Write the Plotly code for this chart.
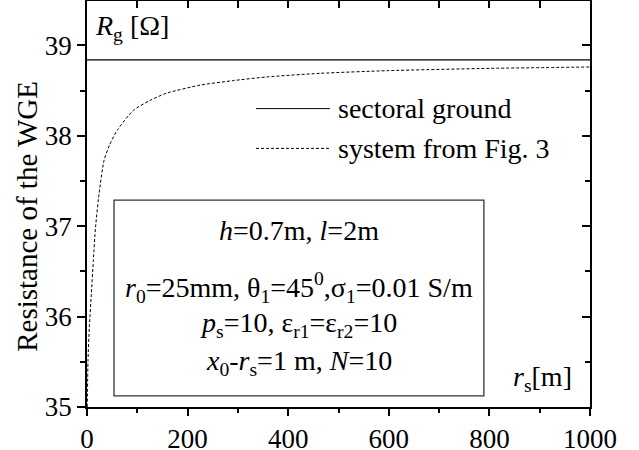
import plotly.graph_objects as go

# --- data ---
x_sector = [0, 1000]
r_sector = [38.84, 38.84]

x_system = [0.5, 2, 4.6, 8.6, 12.6, 17, 24, 34, 45, 60, 92, 125, 158, 225, 291, 357, 463, 600, 800, 1000]
r_system = [35.0, 35.52, 35.88, 36.25, 36.62, 36.99, 37.36, 37.73, 37.9, 38.06, 38.28, 38.39, 38.47,
            38.56, 38.61, 38.65, 38.69, 38.72, 38.745, 38.76]

legend_labels = ["sectoral ground", "system from Fig. 3"]
x_ticks = [0, 200, 400, 600, 800, 1000]
y_ticks = [35, 36, 37, 38, 39]

FONT = "Liberation Serif"
XR = [0, 1000]
YR = [35, 39.49]

fig = go.Figure()
fig.add_trace(go.Scatter(x=x_sector, y=r_sector, mode="lines", name=legend_labels[0],
                         line=dict(color="black", width=1.3), showlegend=False))
fig.add_trace(go.Scatter(x=x_system, y=r_system, mode="lines", name=legend_labels[1],
                         line=dict(color="black", width=1, dash="3px,2px", shape="spline", smoothing=0.6),
                         showlegend=False))

axis_common = dict(showgrid=False, zeroline=False, showline=True, linecolor="black", linewidth=1.5,
                   tickcolor="black", tickwidth=1.5, automargin=False)

fig.update_layout(
    width=639, height=450,
    margin=dict(l=87, r=49, t=1, b=43),
    paper_bgcolor="white", plot_bgcolor="white",
    font=dict(family=FONT, color="black", size=28),
    xaxis=dict(range=XR, tickvals=x_ticks, ticks="outside", ticklen=7,
               minor=dict(dtick=100, ticks="outside", ticklen=4, tickcolor="black", tickwidth=1.5),
               tickfont=dict(size=27, family=FONT), **axis_common),
    yaxis=dict(range=YR, tickvals=y_ticks, ticks="outside", ticklen=8,
               minor=dict(dtick=0.5, ticks="outside", ticklen=5, tickcolor="black", tickwidth=1.5),
               tickfont=dict(size=27, family=FONT), **axis_common),
    xaxis2=dict(range=XR, overlaying="x", side="top", anchor="y2", showticklabels=False,
                tickvals=x_ticks, ticks="inside", ticklen=7,
                minor=dict(dtick=100, ticks="inside", ticklen=7, tickcolor="black", tickwidth=1.5),
                **axis_common),
    yaxis2=dict(range=YR, overlaying="y", side="right", anchor="x2", showticklabels=False,
                tickvals=y_ticks, ticks="inside", ticklen=8,
                minor=dict(dtick=0.5, ticks="inside", ticklen=5, tickcolor="black", tickwidth=1.5),
                **axis_common),
)
# invisible trace to attach the overlay axes
fig.add_trace(go.Scatter(x=[None], y=[None], xaxis="x2", yaxis="y2", showlegend=False, hoverinfo="skip"))

# y-axis title
fig.add_annotation(text="Resistance of the WGE", xref="paper", yref="paper", x=-0.118, y=0.47,
                   xanchor="center", yanchor="middle", textangle=-90, showarrow=False,
                   font=dict(size=29, family=FONT))

# in-plot labels
fig.add_annotation(text="<i>R</i><sub>g</sub> [Ω]", x=12, y=39.2, xanchor="left", yanchor="middle",
                   showarrow=False, font=dict(size=28, family=FONT))
fig.add_annotation(text="<i>r</i><sub>s</sub>[m]", x=968, y=35.32, xanchor="right", yanchor="middle",
                   showarrow=False, font=dict(size=28, family=FONT))

# legend (manual)
leg_y = [38.30, 37.86]
fig.add_shape(type="line", x0=336, x1=483, y0=leg_y[0], y1=leg_y[0], line=dict(color="black", width=1))
fig.add_shape(type="line", x0=336, x1=483, y0=leg_y[1], y1=leg_y[1],
              line=dict(color="black", width=1, dash="3px,2px"))
for lab, ly in zip(legend_labels, leg_y):
    fig.add_annotation(text=lab, x=495, y=ly, xanchor="left", yanchor="middle", showarrow=False,
                       font=dict(size=28, family=FONT))

# parameter box
fig.add_shape(type="rect", x0=53.7, x1=789, y0=35.122, y1=37.287, line=dict(color="#333", width=1.3))
box_lines = [
    "<i>h</i>=0.7m, <i>l</i>=2m",
    "<i>r</i><sub>0</sub>=25mm, θ<sub>1</sub>=45<sup>0</sup>,σ<sub>1</sub>=0.01 S/m",
    "<i>p</i><sub>s</sub>=10, ε<sub>r1</sub>=ε<sub>r2</sub>=10",
    "<i>x</i><sub>0</sub>-<i>r</i><sub>s</sub>=1 m, <i>N</i>=10",
]
box_y = [36.95, 36.32, 35.91, 35.49]
for t, by in zip(box_lines, box_y):
    fig.add_annotation(text=t, x=421, y=by, xanchor="center", yanchor="middle", showarrow=False,
                       font=dict(size=28, family=FONT))

fig.write_html("out.html", config={"displayModeBar": False},
               post_script="document.body.style.margin='0';")
